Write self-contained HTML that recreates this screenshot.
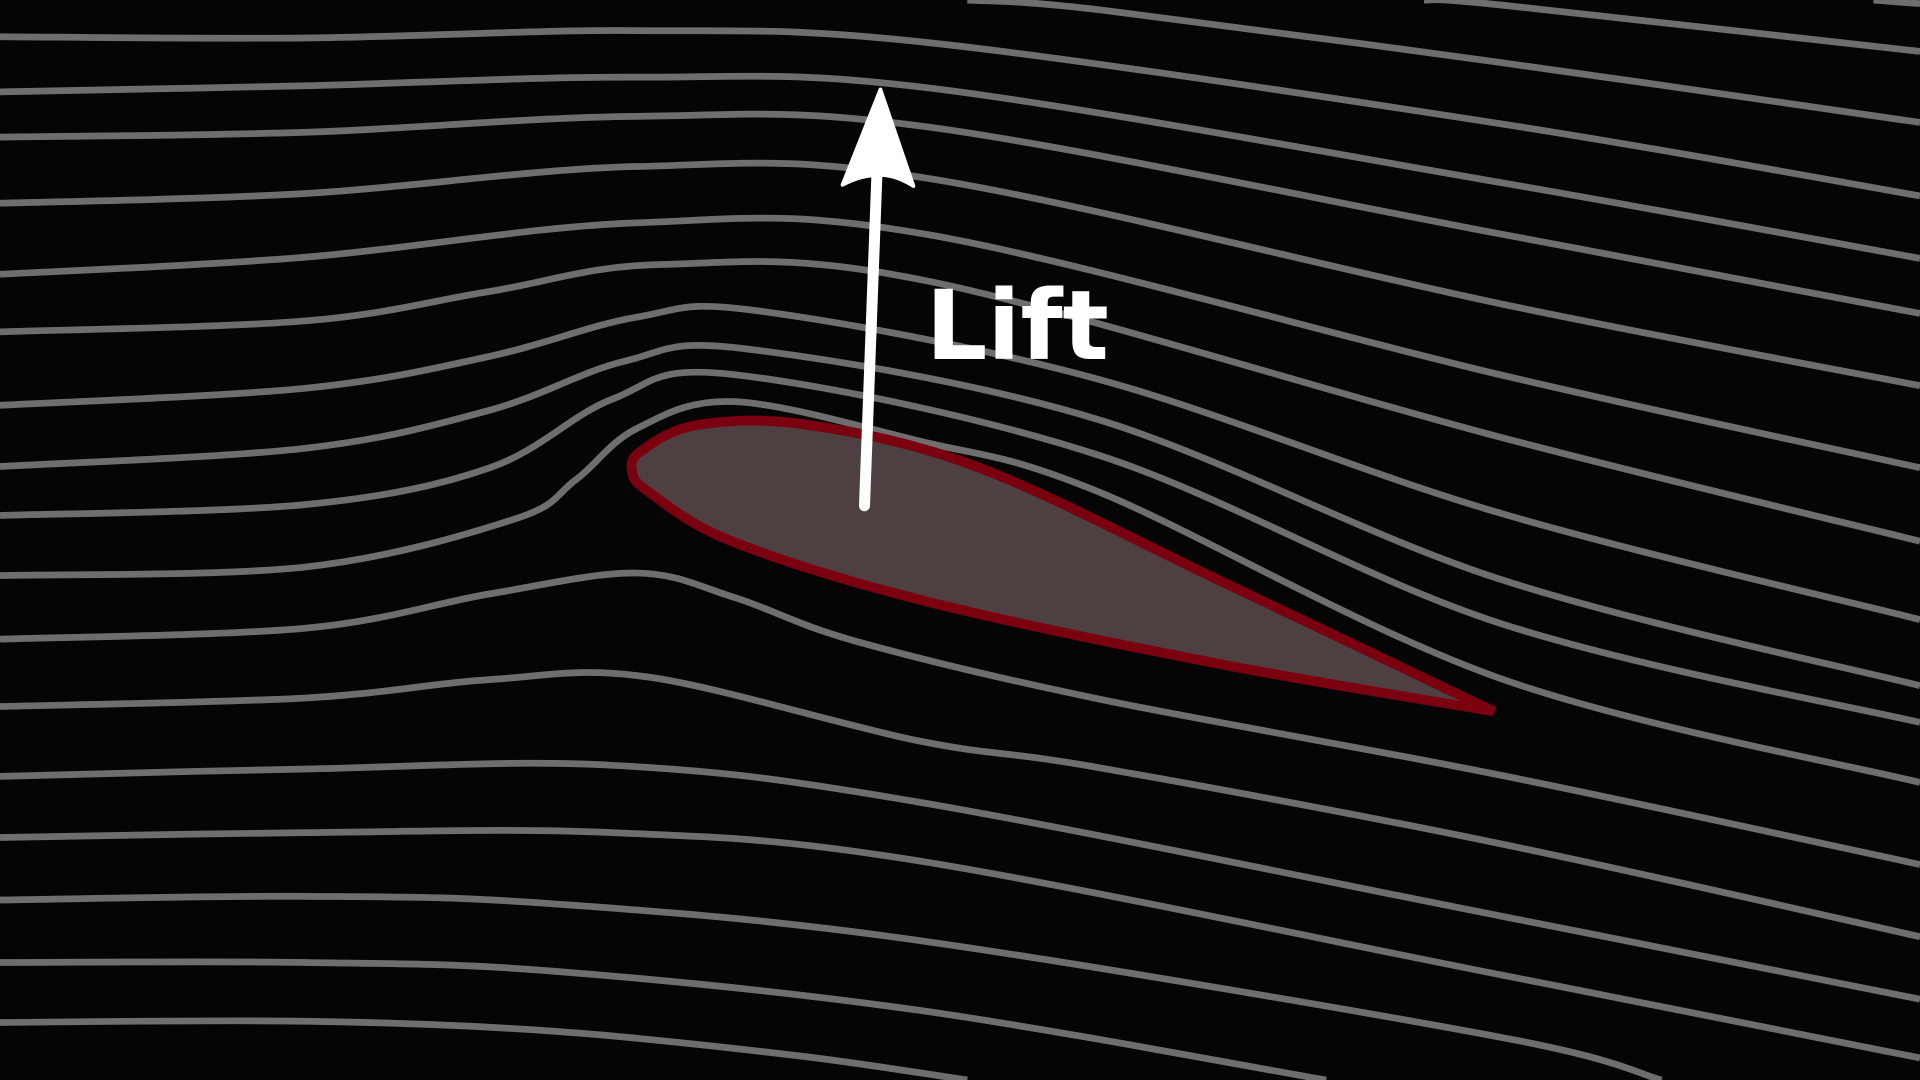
<!DOCTYPE html>
<html><head><meta charset="utf-8"><title>Lift</title>
<style>
html,body{margin:0;padding:0;background:#050505;overflow:hidden;}
svg{display:block;}
</style></head>
<body>
<svg id="chart" width="1920" height="1080" viewBox="0 0 1568 882" xmlns="http://www.w3.org/2000/svg">
<rect x="0" y="0" width="1568" height="882" fill="#050505"/>
<g id="streams"></g>
<path id="airfoil" fill="#4e3f40" stroke="#7a0010" stroke-width="8" stroke-linejoin="miter"/>
<g>
<line x1="706" y1="413" x2="717" y2="120" stroke="#fff" stroke-width="9" stroke-linecap="round"/>
<path d="M719,73 L746,152 Q730,142 717,143 Q703,143 688,151 Z" fill="#fff" stroke="#fff" stroke-width="3" stroke-linejoin="round"/>
</g>
<text x="756" y="293" font-family="DejaVu Sans, Liberation Sans, sans-serif" font-weight="bold" font-size="79" fill="#fff">Lift</text>
</svg>
<script>
// streamline data (x, y pairs in diagram units)
const lineCorner = [1530,0, 1568,3];
const lineTop2 = [1163,0, 1225,4, 1568,42];
const lineTop1 = [790,0, 898,8, 1225,51, 1568,100];
const line0 = [0,30, 250,31, 520,25, 760,35, 1225,101, 1568,160];
const line1 = [0,75, 250,70, 520,63, 760,72, 1225,149, 1568,211];
const line2 = [0,112, 250,108, 520,95, 760,104, 1225,191, 1568,256];
const line3 = [0,166, 250,158, 520,136, 760,146, 1225,248, 1568,315];
const line4 = [0,224, 250,210, 520,182, 760,192, 1225,306, 1568,382];
const line5 = [0,271, 250,262, 400,238, 540,216, 760,230, 1225,357, 1568,442];
const line6 = [0,331, 250,317, 400,291, 520,259, 620,254, 898,310, 1225,419, 1568,506];
const line7 = [0,381, 250,366, 400,335, 510,295, 610,285, 898,343, 1225,473, 1568,560];
const line8 = [0,421, 250,412, 400,382, 500,326, 600,306, 898,372, 1225,509, 1568,590];
const line9 = [0,470, 250,463, 420,424, 470,392, 520,350, 600,328, 750,360, 898,402, 1225,554, 1568,639];
const line10 = [0,522, 250,513, 400,485, 520,468, 600,488, 700,524, 898,571, 1225,633, 1568,706];
const line11 = [0,577, 250,570, 400,555, 530,553, 750,605, 898,627, 1225,689, 1568,765];
const line12 = [0,634, 250,628, 500,625, 750,655, 1225,748, 1568,816];
const line13 = [0,684, 250,680, 500,680, 750,703, 1225,796, 1568,864];
const line14 = [0,735, 250,732, 450,738, 750,768, 1225,847, 1357,882];
const line15 = [0,786, 250,786, 450,793, 750,825, 1083,882];
const line16 = [0,835, 250,834, 450,842, 650,862, 790,882];
const streamlines = [lineCorner,lineTop2,lineTop1,line0,line1,line2,line3,line4,line5,line6,line7,line8,line9,line10,line11,line12,line13,line14,line15,line16];
const airfoilTop = [1220,581, 1000,476, 800,382, 660,347, 570,347, 524,368];
const airfoilBottom = [530,402, 600,443, 760,492, 1000,543, 1220,581];

function toPts(arr){const p=[];for(let i=0;i<arr.length;i+=2)p.push([arr[i],arr[i+1]]);return p;}
function smooth(p){
  const n=p.length; if(n<2) return '';
  let d='M'+p[0][0]+','+p[0][1];
  for(let i=0;i<n-1;i++){
    const p0=p[i-1]||p[i], p1=p[i], p2=p[i+1], p3=p[i+2]||p2;
    const c1x=p1[0]+(p2[0]-p0[0])/6, c1y=p1[1]+(p2[1]-p0[1])/6;
    const c2x=p2[0]-(p3[0]-p1[0])/6, c2y=p2[1]-(p3[1]-p1[1])/6;
    d+=' C'+c1x.toFixed(1)+','+c1y.toFixed(1)+' '+c2x.toFixed(1)+','+c2y.toFixed(1)+' '+p2[0]+','+p2[1];
  }
  return d;
}
const g=document.getElementById('streams');
streamlines.forEach(function(s){
  const el=document.createElementNS('http://www.w3.org/2000/svg','path');
  el.setAttribute('d',smooth(toPts(s)));
  el.setAttribute('fill','none');
  el.setAttribute('stroke','#6e6e6e');
  el.setAttribute('stroke-width','5.5');
  
  
  g.appendChild(el);
});
const foilPts=toPts(airfoilTop).concat([[516,384]]).concat(toPts(airfoilBottom));
document.getElementById('airfoil').setAttribute('d',smooth(foilPts)+' Z');
</script>
</body></html>
